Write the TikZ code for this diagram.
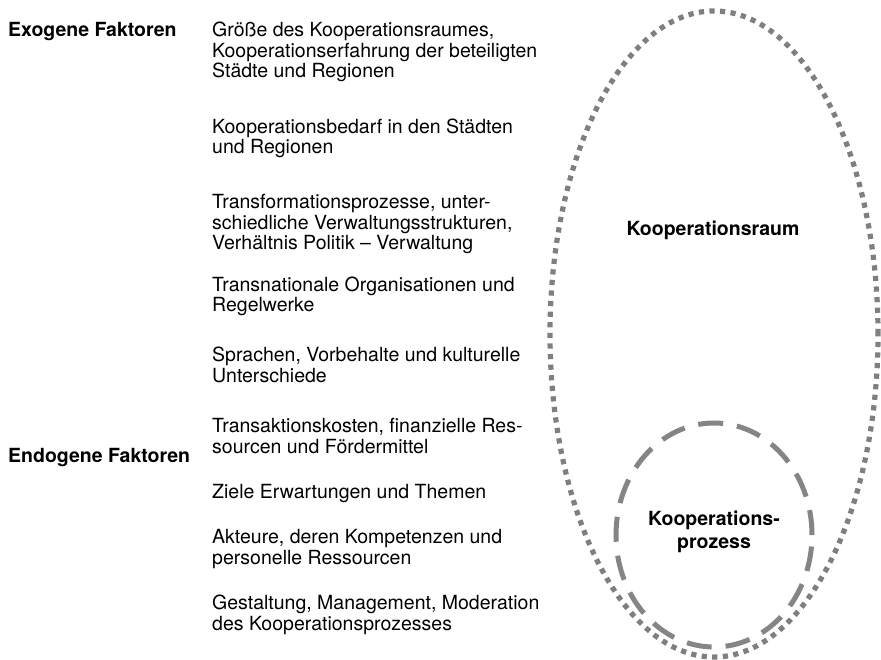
\documentclass[tikz,border=0pt]{standalone}
\usepackage{fontspec}
\setmainfont{TeX Gyre Heros}
\usetikzlibrary{shapes.geometric}

\definecolor{ringgray}{HTML}{7F7F7F}

% Multi-line nodes below are placed by the baseline of their last line.
\tikzset{
  txt/.style={anchor=base west, align=left, inner sep=0pt,
    font=\fontsize{19.5}{20.5}\selectfont},
  head/.style={txt, font=\fontsize{19.5}{20.5}\selectfont\bfseries},
  title/.style={anchor=base, align=center, inner sep=0pt,
    font=\fontsize{19.5}{22.5}\selectfont\bfseries},
  dotring/.style={draw=ringgray, line width=5.2pt, dash pattern=on 5.2pt off 5.4pt,
    ellipse, inner sep=0pt},
  dashring/.style={draw=ringgray!95!white, line width=5pt, dash pattern=on 25pt off 14pt,
    ellipse, inner sep=0pt}
}

\begin{document}
\begin{tikzpicture}[x=1pt, y=-1pt]
  \useasboundingbox (0,0) rectangle (881,660);

  % the two areas
  \node[dotring, minimum width=328pt, minimum height=646pt] (raum) at (714,334) {};
  \node[dashring, minimum width=196pt, minimum height=224pt] (prozess) at (714,535) {};

  \node[title] (raumlbl) at (713,236) {Kooperationsraum};
  \node[title] (prozesslbl) at (714,548) {Kooperations-\\prozess};

  % row headings
  \node[head] (exo) at (8,37) {Exogene Faktoren};
  \node[head] (endo) at (8,462) {Endogene Faktoren};

  % factor list
  \node[txt] (f1) at (212,78) {Größe des Kooperationsraumes,\\Kooperationserfahrung der beteiligten\\Städte und Regionen};
  \node[txt] (f2) at (212,154) {Kooperationsbedarf in den Städten\\und Regionen};
  \node[txt] (f3) at (212,250) {Transformationsprozesse, unter-\\schiedliche Verwaltungsstrukturen,\\Verhältnis Politik – Verwaltung};
  \node[txt] (f4) at (212,312) {Transnationale Organisationen und\\Regelwerke};
  \node[txt] (f5) at (212,382) {Sprachen, Vorbehalte und kulturelle\\Unterschiede};
  \node[txt] (f6) at (212,453) {Transaktionskosten, finanzielle Res-\\sourcen und Fördermittel};
  \node[txt] (f7) at (212,498) {Ziele Erwartungen und Themen};
  \node[txt] (f8) at (212,564) {Akteure, deren Kompetenzen und\\personelle Ressourcen};
  \node[txt] (f9) at (212,630) {Gestaltung, Management, Moderation\\des Kooperationsprozesses};
\end{tikzpicture}
\end{document}
